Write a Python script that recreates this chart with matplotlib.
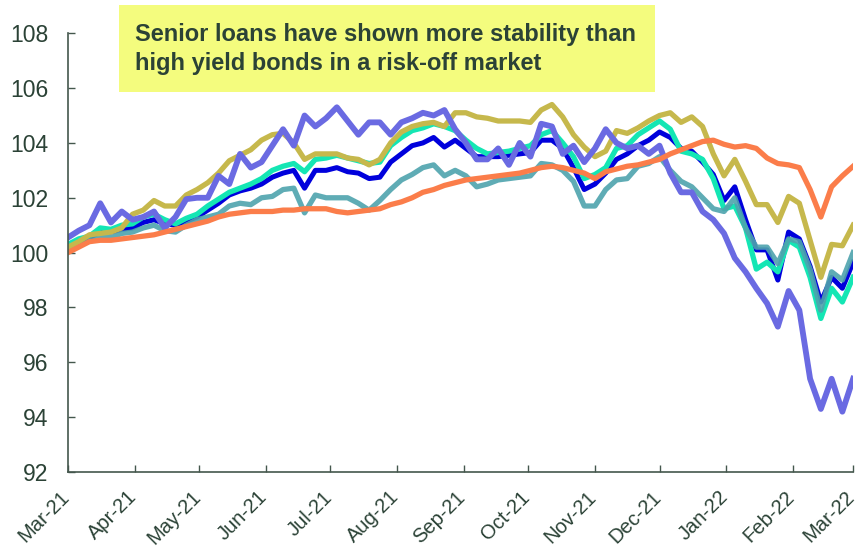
import matplotlib
matplotlib.use("Agg")
import matplotlib.pyplot as plt
import matplotlib.dates as mdates
import matplotlib.patches as patches
import matplotlib.transforms as mtransforms
import pandas as pd

plt.rcParams['font.family'] = ['Liberation Sans', 'DejaVu Sans']

# index levels, rebased to 100 on 1 Mar 2021, one reading every 5 days
dates = pd.date_range("2021-03-01", periods=74, freq="5D")

blue = [100.3, 100.4, 100.55, 100.75, 100.75, 100.85, 100.9, 101.1, 101.2, 101.05,
        101.0, 101.15, 101.3, 101.55, 101.8, 102.1, 102.25, 102.35, 102.5, 102.75,
        102.9, 103.0, 102.35, 103.0, 103.0, 103.1, 102.95, 102.9, 102.7, 102.75,
        103.3, 103.6, 103.9, 104.0, 104.2, 103.85, 104.1, 103.8, 103.5, 103.5,
        103.5, 103.55, 103.6, 103.65, 104.1, 104.1, 103.8, 103.1, 102.3, 102.5,
        102.9, 103.4, 103.6, 103.9, 104.1, 104.4, 104.2, 103.8, 103.7, 103.3,
        102.85, 101.9, 102.4, 101.2, 100.1, 100.1, 99.0, 100.75, 100.5, 99.5,
        98.2, 99.1, 98.7, 99.65]

aqua = [100.3, 100.5, 100.6, 100.9, 100.85, 101.0, 101.05, 101.3, 101.4, 101.2,
        101.05, 101.25, 101.4, 101.7, 101.95, 102.2, 102.35, 102.5, 102.7, 103.0,
        103.15, 103.25, 102.95, 103.4, 103.45, 103.55, 103.45, 103.35, 103.25, 103.3,
        103.9, 104.2, 104.45, 104.55, 104.7, 104.6, 104.45, 104.1, 103.8, 103.6,
        103.65, 103.7, 103.8, 103.9, 104.3, 104.45, 104.0, 103.5, 102.7, 102.85,
        103.1, 103.8, 103.9, 104.3, 104.55, 104.8, 104.5, 103.7, 103.6, 103.4,
        102.7, 101.6, 101.7, 100.9, 99.4, 99.65, 99.3, 100.45, 100.2, 99.1,
        97.6, 98.7, 98.2, 99.1]

cadet = [100.1, 100.3, 100.45, 100.6, 100.55, 100.7, 100.75, 100.9, 101.0, 100.8,
         100.75, 101.0, 101.2, 101.3, 101.4, 101.7, 101.8, 101.75, 102.0, 102.05,
         102.3, 102.35, 101.45, 102.1, 102.0, 102.0, 102.0, 101.8, 101.55, 101.9,
         102.3, 102.65, 102.85, 103.1, 103.2, 102.8, 103.0, 102.8, 102.4, 102.5,
         102.65, 102.7, 102.75, 102.8, 103.25, 103.2, 103.0, 102.6, 101.7, 101.7,
         102.3, 102.65, 102.7, 103.15, 103.25, 103.5, 103.0, 102.6, 102.4, 102.0,
         101.6, 101.5, 102.0, 100.9, 100.2, 100.2, 99.6, 100.5, 100.4, 99.4,
         97.9, 99.3, 99.0, 100.0]

olive = [100.2, 100.4, 100.65, 100.7, 100.75, 100.9, 101.4, 101.55, 101.9, 101.7,
         101.7, 102.1, 102.3, 102.55, 102.9, 103.35, 103.55, 103.75, 104.1, 104.3,
         104.35, 104.0, 103.4, 103.6, 103.6, 103.6, 103.45, 103.4, 103.2, 103.4,
         104.0, 104.4, 104.6, 104.7, 104.75, 104.6, 105.1, 105.1, 104.95, 104.9,
         104.8, 104.8, 104.8, 104.75, 105.2, 105.4, 104.95, 104.3, 103.85, 103.5,
         103.7, 104.45, 104.35, 104.55, 104.8, 105.0, 105.1, 104.75, 104.95, 104.6,
         103.6, 102.8, 103.4, 102.6, 101.75, 101.75, 101.1, 102.05, 101.8, 100.45,
         99.1, 100.3, 100.25, 101.0]

slate = [100.55, 100.8, 101.0, 101.8, 101.1, 101.5, 101.2, 101.3, 101.5, 100.9,
         101.3, 101.95, 102.0, 102.0, 102.8, 102.5, 103.6, 103.1, 103.3, 103.9,
         104.5, 103.9, 105.0, 104.6, 104.9, 105.3, 104.8, 104.3, 104.75, 104.75,
         104.3, 104.75, 104.9, 105.1, 105.0, 105.2, 104.5, 104.0, 103.4, 103.4,
         103.8, 103.2, 104.0, 103.5, 104.7, 104.6, 103.6, 103.9, 103.3, 103.8,
         104.5, 104.0, 103.8, 103.9, 103.6, 103.9, 102.9, 102.2, 102.2, 101.5,
         101.2, 100.7, 99.8, 99.3, 98.7, 98.15, 97.3, 98.6, 97.9, 95.4,
         94.3, 95.4, 94.2, 95.4]

coral = [100.0, 100.2, 100.4, 100.45, 100.45, 100.5, 100.55, 100.6, 100.65, 100.75,
         100.85, 100.95, 101.05, 101.15, 101.3, 101.4, 101.45, 101.5, 101.5, 101.5,
         101.55, 101.55, 101.6, 101.6, 101.6, 101.5, 101.45, 101.5, 101.55, 101.6,
         101.75, 101.85, 102.0, 102.2, 102.3, 102.45, 102.55, 102.65, 102.7, 102.75,
         102.8, 102.85, 102.9, 103.0, 103.1, 103.15, 103.1, 103.0, 102.9, 102.7,
         102.95, 103.05, 103.15, 103.2, 103.3, 103.4, 103.6, 103.75, 103.9, 104.05,
         104.1, 103.95, 103.85, 103.9, 103.8, 103.45, 103.25, 103.2, 103.1, 102.3,
         101.3, 102.4, 102.8, 103.15]

title = "Senior loans have shown more stability than\nhigh yield bonds in a risk-off market"

ink = "#2b4236"
axis_col = "#44574d"

fig = plt.figure(figsize=(8.6, 5.54), dpi=100)
ax = fig.add_axes([0.079, 0.148, 0.913, 0.792])

ax.plot(dates, blue, color="#0000dc", lw=3.6, solid_joinstyle="round")
ax.plot(dates, aqua, color="#14e6b4", lw=3.8, solid_joinstyle="round")
ax.plot(dates, cadet, color="#4ea3ad", lw=3.8, alpha=0.9, solid_joinstyle="round")
ax.plot(dates, olive, color="#c6b84c", lw=3.8, solid_joinstyle="round")
ax.plot(dates, slate, color="#6a6ae2", lw=4.2, solid_joinstyle="round")
ax.plot(dates, coral, color="#fb7d4a", lw=3.8, solid_joinstyle="round")

ax.set_xlim(pd.Timestamp("2021-03-01"), pd.Timestamp("2022-03-01"))
ax.set_ylim(92, 108)
ax.set_yticks(range(92, 109, 2))
ax.xaxis.set_major_locator(mdates.MonthLocator())
ax.xaxis.set_major_formatter(mdates.DateFormatter("%b-%y"))

for side in ("top", "right"):
    ax.spines[side].set_visible(False)
for side in ("left", "bottom"):
    ax.spines[side].set_color(axis_col)
    ax.spines[side].set_linewidth(1.2)

ax.tick_params(axis="both", direction="in", length=5, width=1, color=axis_col,
               labelcolor=ink)
ax.tick_params(axis="y", pad=14, labelsize=16.5)
ax.tick_params(axis="x", pad=11, labelsize=14.5)
# nudge the slanted month labels left so the last one stays inside the figure
shift = mtransforms.ScaledTranslation(-8 / 100, 0, fig.dpi_scale_trans)
for lbl in ax.get_xticklabels():
    lbl.set_rotation(45)
    lbl.set_ha("right")
    lbl.set_rotation_mode("anchor")
    lbl.set_transform(lbl.get_transform() + shift)

# headline box
fig.patches.append(patches.Rectangle((119 / 860, 1 - 92 / 554), 536 / 860, 87 / 554,
                                     transform=fig.transFigure, facecolor="#f4fc7e",
                                     edgecolor="none", zorder=0))
fig.text(135 / 860, 1 - 49 / 554, title, fontsize=17, fontweight="bold",
         color=ink, va="center", ha="left", linespacing=1.35)

fig.savefig("out.png", dpi=100)
